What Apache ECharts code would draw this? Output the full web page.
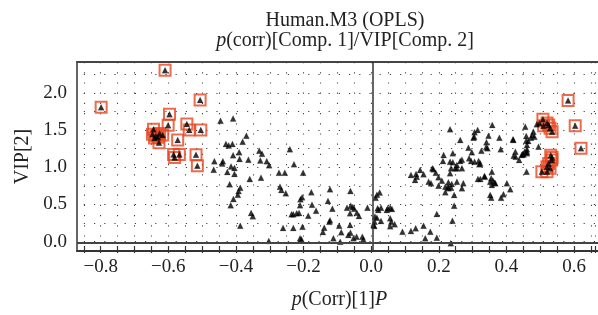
<!DOCTYPE html>
<html>
<head>
<meta charset="utf-8">
<script src="https://cdn.jsdelivr.net/npm/echarts@6/dist/echarts.min.js"></script>
<style>
  html, body { margin: 0; padding: 0; background: #fff; }
  #chart { width: 598px; height: 315px; }
</style>
</head>
<body>
<div id="chart"></div>
<script>
// tick labels
var xTickLabels = [-0.8, -0.6, -0.4, -0.2, 0.0, 0.2, 0.4, 0.6];
var yTickLabels = [0.0, 0.5, 1.0, 1.5, 2.0];

// variables without VIP highlight, left side (p(corr) < 0)
var leftPts = [
  [-0.448,1.63],[-0.411,1.66],[-0.372,1.43],
  [-0.432,1.32],[-0.424,1.30],[-0.413,1.32],[-0.383,1.35],
  [-0.393,1.21],[-0.411,1.17],[-0.392,1.12],[-0.366,1.11],
  [-0.334,1.23],[-0.326,1.19],[-0.331,1.10],[-0.312,1.09],[-0.305,1.035],
  [-0.244,1.25],[-0.232,1.05],
  [-0.466,1.09],[-0.443,1.06],[-0.441,1.09],[-0.468,0.976],[-0.428,0.945],[-0.417,1.02],[-0.407,1.00],[-0.407,0.92],
  [-0.362,0.85],[-0.329,0.87],[-0.276,0.936],[-0.259,0.936],[-0.205,0.936],
  [-0.421,0.78],[-0.39,0.735],[-0.395,0.69],[-0.397,0.64],[-0.41,0.584],[-0.418,0.50],
  [-0.273,0.749],[-0.269,0.705],[-0.256,0.66],[-0.181,0.674],[-0.208,0.607],[-0.213,0.58],
  [-0.214,0.50],[-0.234,0.38],[-0.224,0.393],[-0.217,0.397],[-0.239,0.38],[-0.19,0.361],[-0.167,0.428],[-0.179,0.508],
  [-0.126,0.714],[-0.132,0.557],[-0.119,0.455],[-0.066,0.691],
  [-0.076,0.468],[-0.065,0.495],[-0.059,0.477],[-0.055,0.455],[-0.067,0.393],[-0.047,0.401],[-0.041,0.357],[-0.016,0.468],
  [-0.126,0.30],[-0.128,0.28],[-0.099,0.227],[-0.093,0.139],[-0.116,0.059],[-0.147,0.143],[-0.143,0.20],
  [-0.066,0.134],[-0.072,0.103],[-0.057,0.059],[-0.048,0.08],[-0.031,0.08],[-0.028,0.045],[-0.096,0.013],[-0.067,0.237],
  [-0.264,0.197],[-0.234,0.197],[-0.207,0.214],[-0.214,0.059],[-0.21,0.045],[-0.306,0.023],
  [-0.358,0.397],[-0.353,0.353],[-0.39,0.227]
];

// variables without VIP highlight, right side (p(corr) > 0)
var rightPts = [
  [0.002,0.237],[0.008,0.60],[0.012,0.64],[0.02,0.67],[0.014,0.46],[0.006,0.35],
  [0.004,0.223],[0.005,0.28],[0.012,0.335],[0.016,0.437],[0.024,0.468],[0.024,0.29],
  [0.041,0.437],[0.044,0.46],[0.051,0.468],[0.056,0.45],[0.051,0.326],[0.054,0.28],[0.064,0.246],[0.051,0.22],
  [0.087,0.147],[0.112,0.156],[0.126,0.192],[0.149,0.227],[0.169,0.147],[0.154,0.059],[0.188,0.067],
  [0.188,0.384],[0.234,0.294],[0.239,0.495],[0.229,-0.008],
  [0.112,0.905],[0.124,0.838],[0.129,0.882],[0.139,0.972],[0.149,0.914],[0.127,0.918],
  [0.164,0.816],[0.171,0.794],[0.175,0.994],[0.178,0.981],[0.185,0.936],[0.193,0.874],[0.203,0.829],
  [0.193,0.762],[0.213,0.674],[0.221,0.749],[0.222,0.807],[0.23,0.735],[0.239,0.638],[0.213,0.749],[0.222,0.727],[0.232,0.785],[0.247,0.816],
  [0.227,0.928],[0.242,0.994],[0.235,1.075],[0.247,1.039],[0.262,0.994],[0.257,1.092],[0.262,1.11],[0.266,0.794],[0.262,0.727],[0.23,0.994],[0.247,0.994],
  [0.206,1.092],[0.208,1.172],[0.235,1.195],[0.227,1.083],[0.257,1.373],[0.227,1.516],
  [0.299,1.476],[0.296,1.404],[0.308,1.507],[0.298,1.417],[0.281,1.27],[0.291,1.208],[0.283,1.128],[0.289,1.092],[0.299,1.083],[0.311,1.092],[0.313,1.048],[0.319,1.23],[0.316,1.06],
  [0.334,1.342],[0.34,1.431],[0.351,1.574],[0.372,1.404],[0.376,1.249],[0.333,1.275],[0.337,1.262],
  [0.35,0.95],[0.348,0.861],[0.358,0.802],[0.329,0.882],[0.309,0.852],[0.316,0.852],[0.328,0.892],[0.353,0.829],[0.36,0.794],[0.345,0.816],[0.35,0.771],
  [0.394,0.794],[0.404,0.714],[0.384,0.647],[0.377,0.602],[0.348,0.602],[0.345,0.638],
  [0.412,1.382],[0.413,1.373],[0.419,1.217],[0.414,1.163],[0.43,1.105],[0.42,1.15],[0.44,1.186],[0.446,1.217],[0.453,1.195],
  [0.448,1.551],[0.451,1.426],[0.451,1.364],[0.457,1.36],[0.465,1.404],[0.469,1.44],[0.472,1.484],[0.475,1.417],
  [0.453,1.306],[0.443,1.18],[0.438,1.172],[0.453,1.217],[0.453,1.249],[0.452,0.95],[0.487,1.284],[0.482,1.583],[0.49,1.596]
];

// highlighted (boxed) variables
var vipLeft = [
  [-0.611,2.306],[-0.799,1.81],[-0.508,1.908],[-0.598,1.716],[-0.602,1.57],[-0.547,1.587],[-0.540,1.507],[-0.506,1.507],[-0.645,1.516],
  [-0.648,1.45],[-0.638,1.43],[-0.627,1.46],[-0.618,1.44],[-0.642,1.40],[-0.632,1.41],
  [-0.629,1.337],[-0.574,1.373],[-0.586,1.18],[-0.583,1.14],[-0.569,1.18],[-0.52,1.177],[-0.516,1.03]
];
var vipRight = [
  [0.574,1.90],[0.595,1.564],[0.612,1.262],
  [0.500,1.65],[0.502,1.564],[0.517,1.573],[0.521,1.529],[0.527,1.484],[0.512,1.60],
  [0.523,1.17],[0.526,1.105],[0.517,1.06],[0.512,1.016],[0.497,0.95],[0.512,0.95],[0.521,0.995],[0.527,1.14]
];

var FONT = 'Liberation Serif';
var TXT = '#222';
var DOT = { type: [1.2, 9], color: '#444', width: 1.1 };

function inList(v, list) {
  for (var i = 0; i < list.length; i++) {
    if (Math.abs(v - list[i]) < 1e-6) return true;
  }
  return false;
}
function fmt(list) {
  return function (v) {
    var r = Math.round(v * 100) / 100;
    if (!inList(r, list)) return '';
    return r.toFixed(1).replace('-', '\u2212');
  };
}

var chart = echarts.init(document.getElementById('chart'));

var option = {
  animation: false,
  title: {
    text: '{n|Human.M3 (OPLS)}\n{i|p}{n|(corr)[Comp. 1]/VIP[Comp. 2]}',
    left: 340,
    textAlign: 'center',
    top: 6,
    textStyle: {
      fontWeight: 'normal',
      rich: {
        n: { fontFamily: FONT, fontSize: 20, fontWeight: 'normal', color: TXT, lineHeight: 20 },
        i: { fontFamily: FONT, fontSize: 20, fontWeight: 'normal', color: TXT, lineHeight: 20, fontStyle: 'italic' }
      }
    }
  },
  grid: [
    // frame + data
    { left: 77, right: 0, top: 62, bottom: 64 },
    // ticks, labels, dotted grid
    { left: 83.8, right: 0, top: 62, bottom: 72.3 }
  ],
  xAxis: [
    {
      gridIndex: 0, type: 'value', position: 'bottom', min: -0.87, max: 0.662,
      axisLine: { onZero: false, lineStyle: { color: '#333', width: 2 } },
      axisTick: { show: false }, axisLabel: { show: false }, splitLine: { show: false }
    },
    {
      gridIndex: 0, type: 'value', position: 'top', min: -0.87, max: 0.662,
      axisLine: { onZero: false, lineStyle: { color: '#444', width: 2 } },
      axisTick: { show: false }, axisLabel: { show: false }, splitLine: { show: false }
    },
    {
      gridIndex: 1, type: 'value', position: 'bottom', min: -0.85, max: 0.662, interval: 0.05, offset: 8.3,
      axisLine: { show: false, onZero: false },
      axisTick: { show: true, length: 3, lineStyle: { color: '#333', width: 1.2 } },
      axisLabel: { formatter: fmt(xTickLabels), fontFamily: FONT, fontSize: 19, color: TXT, margin: 8 },
      splitLine: { show: true, lineStyle: DOT },
      name: '{i|p}{n|(Corr)[1]}{i|P}',
      nameLocation: 'middle',
      nameGap: 40,
      nameTextStyle: {
        rich: {
          n: { fontFamily: FONT, fontSize: 20, color: TXT },
          i: { fontFamily: FONT, fontSize: 20, color: TXT, fontStyle: 'italic' }
        }
      }
    },
    {
      gridIndex: 1, type: 'value', position: 'bottom', min: -0.85, max: 0.662, interval: 0.05, offset: 8.3,
      axisLine: { show: false, onZero: false },
      axisTick: { show: true, inside: true, length: 4, lineStyle: { color: '#333', width: 1.2 } },
      axisLabel: { show: false }, splitLine: { show: false }
    }
  ],
  yAxis: [
    {
      gridIndex: 0, type: 'value', position: 'left', min: -0.111, max: 2.416,
      axisLine: { show: true, onZero: false, lineStyle: { color: '#333', width: 1.5 } },
      axisTick: { show: false }, axisLabel: { show: false }, splitLine: { show: false },
      name: 'VIP[2]', nameLocation: 'middle', nameGap: 44, nameRotate: 90,
      nameTextStyle: { fontFamily: FONT, fontSize: 20, color: TXT }
    },
    {
      gridIndex: 1, type: 'value', position: 'left', min: 0, max: 2.416, interval: 0.25, offset: 6.8,
      axisLine: { show: false, onZero: false },
      axisTick: { show: false },
      axisLabel: { formatter: fmt(yTickLabels), fontFamily: FONT, fontSize: 19, color: TXT, margin: 10 },
      splitLine: { show: true, lineStyle: DOT }
    }
  ],
  series: [
    {
      name: 'VIP',
      type: 'scatter',
      xAxisIndex: 0, yAxisIndex: 0,
      symbol: 'rect',
      symbolSize: 11,
      z: 3,
      itemStyle: { color: 'rgba(0,0,0,0)', borderColor: '#e8461f', borderWidth: 2 },
      data: vipLeft.concat(vipRight)
    },
    {
      name: 'variables',
      type: 'scatter',
      xAxisIndex: 0, yAxisIndex: 0,
      symbol: 'triangle',
      symbolSize: 6,
      z: 4,
      itemStyle: { color: '#000', borderColor: 'rgba(0,0,0,0.2)', borderWidth: 1 },
      data: leftPts.concat(rightPts, vipLeft, vipRight),
      markLine: {
        silent: true,
        symbol: ['none', 'none'],
        label: { show: false },
        data: [
          { xAxis: 0, lineStyle: { color: '#333', width: 1.5, type: 'solid' } },
          { yAxis: 0, lineStyle: { color: '#444', width: 2, type: 'solid' } }
        ]
      }
    }
  ]
};

chart.setOption(option);
</script>
</body>
</html>
